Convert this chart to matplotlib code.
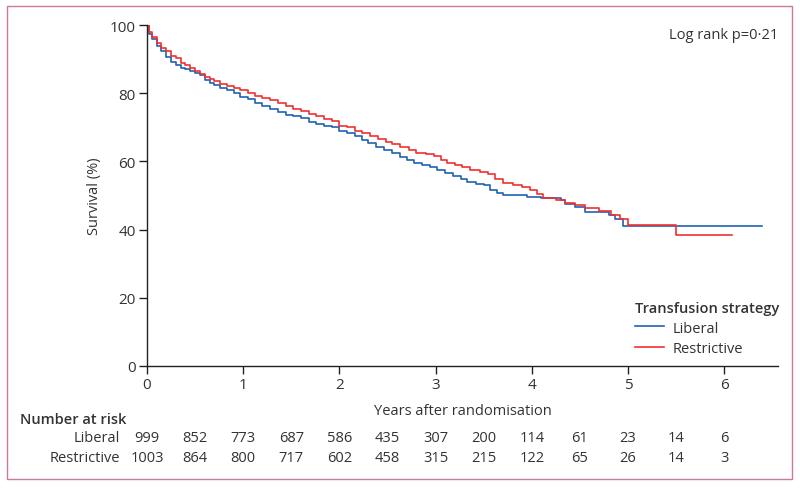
import matplotlib
matplotlib.use("Agg")
import matplotlib.pyplot as plt
from matplotlib.patches import Rectangle
import matplotlib.transforms as mtransforms

plt.rcParams['font.family'] = ['Open Sans', 'DejaVu Sans']

# Kaplan-Meier curves (years, survival %)
lib_t = [0, 0.02, 0.05, 0.1, 0.15, 0.2, 0.25, 0.3, 0.35, 0.4, 0.45, 0.5, 0.55, 0.6, 0.65,
         0.7, 0.76, 0.83, 0.9, 0.97, 1.05, 1.12, 1.2, 1.28, 1.36, 1.44, 1.52, 1.6, 1.68,
         1.76, 1.84, 1.92, 2.0, 2.08, 2.16, 2.24, 2.3, 2.38, 2.46, 2.55, 2.63, 2.7, 2.78,
         2.86, 2.94, 3.02, 3.1, 3.18, 3.26, 3.33, 3.42, 3.5, 3.57, 3.64, 3.7, 3.95, 4.1,
         4.3, 4.35, 4.45, 4.55, 4.8, 4.87, 4.95, 6.39]
lib_s = [100, 97.5, 95.8, 93.8, 92.3, 90.6, 89.2, 88.2, 87.4, 87.0, 86.6, 86.0, 85.3, 84.0, 83.1,
         82.3, 81.4, 80.8, 80.2, 79.0, 78.3, 77.0, 76.2, 75.4, 74.5, 73.7, 73.2, 72.6, 71.7,
         71.0, 70.4, 70.0, 69.0, 68.2, 67.5, 66.2, 65.3, 64.3, 63.4, 62.4, 61.2, 60.5, 59.6,
         59.0, 58.3, 57.5, 56.6, 55.7, 54.8, 54.0, 53.5, 53.0, 51.5, 50.8, 50.1, 49.7, 49.3,
         48.7, 47.5, 46.5, 45.2, 44.2, 43.2, 41.0, 41.0]

res_t = [0, 0.02, 0.05, 0.1, 0.15, 0.2, 0.25, 0.3, 0.35, 0.4, 0.45, 0.5, 0.55, 0.6, 0.65,
         0.7, 0.76, 0.83, 0.9, 0.97, 1.05, 1.12, 1.2, 1.28, 1.36, 1.44, 1.52, 1.6, 1.68,
         1.76, 1.84, 1.92, 2.0, 2.08, 2.16, 2.24, 2.32, 2.4, 2.48, 2.55, 2.63, 2.72, 2.8,
         2.9, 2.98, 3.06, 3.12, 3.2, 3.28, 3.36, 3.46, 3.55, 3.62, 3.7, 3.8, 3.9, 3.98,
         4.05, 4.12, 4.25, 4.35, 4.45, 4.55, 4.7, 4.82, 4.92, 5.0, 5.5, 6.08]
res_s = [100, 98.0, 96.6, 94.6, 93.4, 92.3, 91.0, 90.2, 89.0, 88.2, 87.5, 86.6, 85.6, 84.8, 84.2,
         83.5, 82.7, 82.2, 81.6, 80.8, 80.2, 79.2, 78.6, 78.0, 77.0, 76.2, 75.4, 74.8, 73.8,
         73.2, 72.4, 71.8, 70.5, 70.0, 69.0, 68.4, 67.5, 66.5, 65.8, 65.0, 64.3, 63.3, 62.5,
         62.2, 61.6, 60.4, 59.6, 58.9, 58.3, 57.5, 57.0, 56.3, 54.9, 53.8, 53.0, 52.5, 51.7,
         50.3, 49.4, 48.6, 47.8, 47.2, 46.3, 45.6, 44.3, 43.2, 41.3, 38.4, 38.4]

# number at risk
risk_times = [0, 0.5, 1, 1.5, 2, 2.5, 3, 3.5, 4, 4.5, 5, 5.5, 6]
risk_liberal = [999, 852, 773, 687, 586, 435, 307, 200, 114, 61, 23, 14, 6]
risk_restrictive = [1003, 864, 800, 717, 602, 458, 315, 215, 122, 65, 26, 14, 3]

blue = '#1f62b0'
red = '#f03030'
txt = '#333333'
fs = 10.5

fig = plt.figure(figsize=(8, 4.89), dpi=100)
ax = fig.add_axes([147 / 800, 1 - 367 / 489, (778 - 147) / 800, (367 - 26) / 489])

ax.plot(lib_t, lib_s, drawstyle='steps-post', color=blue, lw=1.2, label='Liberal')
ax.plot(res_t, res_s, drawstyle='steps-post', color=red, lw=1.2, label='Restrictive')

ax.set_xlim(0, 6.56)
ax.set_ylim(0, 100)
ax.set_xticks(range(7))
ax.set_yticks(range(0, 101, 20))
for s in ['top', 'right']:
    ax.spines[s].set_visible(False)
for s in ['left', 'bottom']:
    ax.spines[s].set_linewidth(1.0)
    ax.spines[s].set_color('#222222')
ax.tick_params(direction='out', length=6, width=1.0, colors='#222222',
               labelsize=11, labelcolor=txt, pad=2)

ax.set_ylabel('Survival (%)', fontsize=fs, color=txt, labelpad=6)
ax.set_xlabel('Years after randomisation', fontsize=fs, color=txt, labelpad=8)

ax.text(1.0, 0.995, 'Log rank p=0·21', transform=ax.transAxes, ha='right', va='top',
        fontsize=fs, color=txt)

leg = ax.legend(title='Transfusion strategy', loc='lower right', bbox_to_anchor=(1.011, 0.012),
                frameon=False, fontsize=fs, handlelength=2.0, handletextpad=0.6,
                labelspacing=0.38, borderaxespad=0, alignment='left')
leg.get_title().set_fontweight('semibold')
leg.get_title().set_fontsize(fs)
leg.get_title().set_color(txt)
for t in leg.get_texts():
    t.set_color(txt)

# number at risk table
trans = mtransforms.blended_transform_factory(ax.transData, ax.transAxes)
fig.text(20 / 800, 1 - 420 / 489, 'Number at risk', fontsize=fs, fontweight='semibold',
         color=txt, va='center', ha='left')
rows = [('Liberal', risk_liberal, 439), ('Restrictive', risk_restrictive, 459)]
for name, vals, ypx in rows:
    fig.text(120 / 800, 1 - ypx / 489, name, fontsize=fs, color=txt, va='center', ha='right')
    for t, v in zip(risk_times, vals):
        ax.text(t, (367 - ypx) / 341, str(v), transform=trans, fontsize=fs, color=txt,
                ha='center', va='center', clip_on=False)

# frame around the figure
fig.patches.append(Rectangle((7 / 800, 1 - 480 / 489), 785 / 800, 473 / 489,
                             transform=fig.transFigure, fill=False, edgecolor='#c97aa0', lw=1.0))

fig.savefig('out.png', dpi=100)
